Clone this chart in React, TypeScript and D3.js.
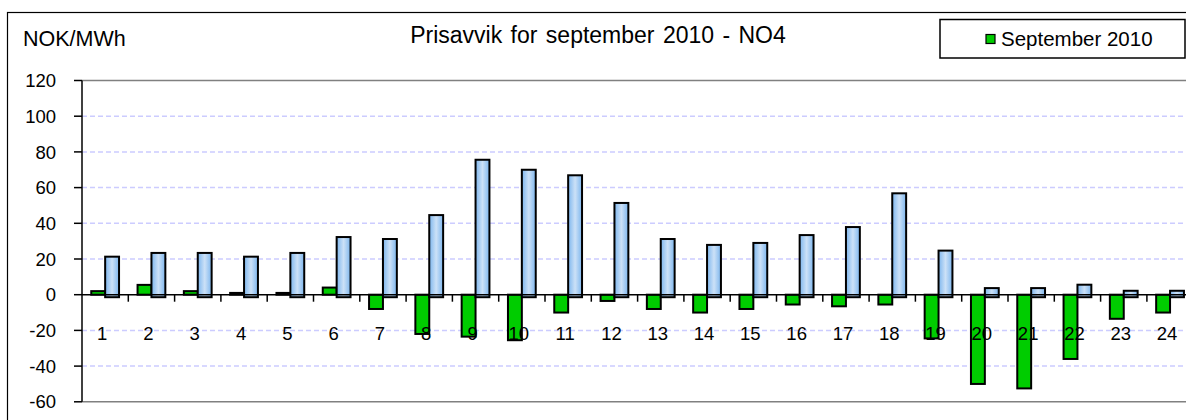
import React from 'react';
import * as d3 from 'd3';

const hours = d3.range(1, 25).map(String);
// green series: deviation September 2010
const sep2010 = [2, 5.5, 2, 1, 1, 4, -8, -22, -23.5, -25.5, -10, -3.5, -8, -10, -8, -5.5, -6.5, -5.5, -24.5, -50, -52.5, -36, -13.5, -10];
// light blue series (no legend entry)
const blueSeries = [21.3, 23.4, 23.4, 21.3, 23.4, 32.3, 31.2, 44.6, 75.6, 70, 66.9, 51.4, 31.2, 27.9, 29, 33.4, 37.9, 56.8, 24.7, 3.7, 3.7, 5.6, 2.2, 2.2];
const yTicks = [-60, -40, -20, 0, 20, 40, 60, 80, 100, 120];
const title = 'Prisavvik for september 2010 - NO4';
const unit = 'NOK/MWh';
const legendLabel = 'September 2010';

const W = 1186;
const H = 420;
const plotLeft = 82;
const step = 46.3;
const font = '"Liberation Sans", Arial, sans-serif';

export default function App() {
  const x = d3.scaleBand<string>()
    .domain(hours)
    .range([plotLeft, plotLeft + step * hours.length])
    .paddingInner(0.4)
    .paddingOuter(0.2);
  const xs = d3.scaleBand<string>().domain(['sep', 'blue']).range([0, x.bandwidth()]);
  const y = d3.scaleLinear().domain([-60, 120]).range([401.8, 80.5]);
  const right = plotLeft + step * hours.length;
  const gap = x.step() * x.paddingInner() / 2;

  return (
    <svg width={W} height={H} style={{ display: 'block', position: 'absolute', left: 0, top: 0 }} fontFamily={font}>
      <defs>
        <linearGradient id="blueFill" x1="0" x2="1" y1="0" y2="0">
          <stop offset="0" stopColor="#7db6ee" />
          <stop offset="0.5" stopColor="#cce1f7" />
          <stop offset="1" stopColor="#7db6ee" />
        </linearGradient>
      </defs>
      <rect x={0} y={0} width={W} height={H} fill="#fff" />
      {/* outer frame */}
      <rect x={7.5} y={12.5} width={W + 20} height={H + 20} fill="none" stroke="#000" strokeWidth={1.2} />

      <text x={598} y={43} textAnchor="middle" fontSize={23} wordSpacing={2}>{title}</text>
      <text x={23} y={45.5} fontSize={21.5}>{unit}</text>

      {/* legend */}
      <rect x={940} y={19.5} width={245} height={38.5} fill="#fff" stroke="#000" strokeWidth={1.5} />
      <rect x={986} y={34.5} width={9} height={9} fill="#00cc00" stroke="#000" strokeWidth={1.2} />
      <text x={1001} y={45.5} fontSize={20.5}>{legendLabel}</text>

      {/* grid */}
      {yTicks.filter(t => t !== 0 && t !== 120 && t !== -60).map(t => (
        <line key={t} x1={plotLeft} x2={right} y1={y(t)} y2={y(t)} stroke="#ccccff" strokeWidth={1.5} strokeDasharray="5,3" />
      ))}
      <line x1={plotLeft} x2={right} y1={y(120)} y2={y(120)} stroke="#808080" strokeWidth={1.5} />
      <line x1={plotLeft} x2={right} y1={y(-60)} y2={y(-60)} stroke="#808080" strokeWidth={1.5} />

      {/* bars */}
      {hours.map((h, i) => {
        const x0 = x(h)!;
        const g = sep2010[i];
        const b = blueSeries[i];
        return (
          <g key={h}>
            <rect x={x0 + xs('sep')!} y={Math.min(y(g), y(0))} width={xs.bandwidth()} height={Math.abs(y(g) - y(0))}
              fill="#00cc00" stroke="#000" strokeWidth={2} />
            <rect x={x0 + xs('blue')!} y={Math.min(y(b), y(0))} width={xs.bandwidth()} height={Math.abs(y(b) - y(0)) + 2.5}
              fill="url(#blueFill)" stroke="#000" strokeWidth={2} />
          </g>
        );
      })}

      {/* y axis */}
      <line x1={plotLeft} x2={plotLeft} y1={y(120)} y2={y(-60)} stroke="#000" strokeWidth={1.5} />
      {yTicks.map(t => (
        <g key={t}>
          <line x1={plotLeft - 8} x2={plotLeft} y1={y(t)} y2={y(t)} stroke="#000" strokeWidth={1.5} />
          <text x={56} y={y(t)} dy="0.36em" textAnchor="end" fontSize={18.5}>{t}</text>
        </g>
      ))}

      {/* x axis at zero */}
      <line x1={plotLeft} x2={right} y1={y(0)} y2={y(0)} stroke="#000" strokeWidth={1.5} />
      {hours.map(h => (
        <g key={h}>
          <line x1={x(h)! + x.bandwidth() + gap} x2={x(h)! + x.bandwidth() + gap} y1={y(0)} y2={y(0) + 7} stroke="#000" strokeWidth={1.5} />
          <text x={x(h)! + x.bandwidth() / 2 - 3} y={340} textAnchor="middle" fontSize={18.5}>{h}</text>
        </g>
      ))}
    </svg>
  );
}
